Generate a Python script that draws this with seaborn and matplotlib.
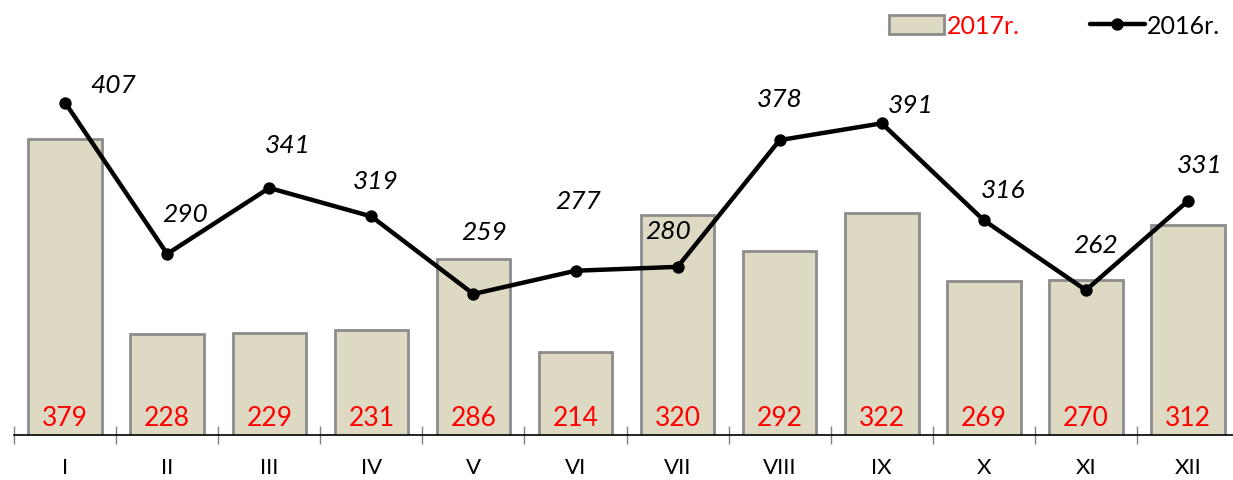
import numpy as np
import pandas as pd
import seaborn as sns
import matplotlib.pyplot as plt

# data
months = ['I', 'II', 'III', 'IV', 'V', 'VI', 'VII', 'VIII', 'IX', 'X', 'XI', 'XII']
values_2017 = [379, 228, 229, 231, 286, 214, 320, 292, 322, 269, 270, 312]
values_2016 = [407, 290, 341, 319, 259, 277, 280, 378, 391, 316, 262, 331]

# pixel offsets of the 2016 labels from their points
label_offsets = [(48, 18), (18, 40), (18, 43), (4, 36), (11, 63), (3, 70),
                 (-9, 36), (0, 42), (29, 19), (19, 31), (10, 46), (12, 36)]

sns.set_style('white')
plt.rcParams['font.family'] = ['Lato', 'DejaVu Sans']

df = pd.DataFrame({'month': months, '2017': values_2017, '2016': values_2016})

fig = plt.figure(figsize=(12.33, 4.81), dpi=100)
ax = fig.add_axes([0.0114, 0.0936, 0.9935, 0.8066])

sns.barplot(data=df, x='month', y='2017', order=months, color='#DDD9C3',
            edgecolor='#8C8C8C', linewidth=2, width=0.72, saturation=1,
            label='2017r.', ax=ax)
sns.pointplot(data=df, x='month', y='2016', order=months, color='black',
              markers='o', markersize=6.5, linewidth=3.2, label='2016r.', ax=ax)
if ax.get_legend() is not None:
    ax.get_legend().remove()

ax.set_ylim(150, 450)
ax.set_xlim(-0.5, len(months) - 0.5)
ax.set_xlabel('')
ax.set_ylabel('')
ax.set_yticks([])
for s in ['left', 'right', 'top']:
    ax.spines[s].set_visible(False)
ax.spines['bottom'].set_color('black')
ax.spines['bottom'].set_linewidth(1.2)

ax.set_xticks(np.arange(len(months)))
ax.set_xticklabels(months, fontsize=16, color='black')
ax.set_xticks(np.arange(len(months) + 1) - 0.5, minor=True)
ax.tick_params(axis='x', which='major', length=0, pad=16)
ax.tick_params(axis='x', which='minor', length=13, width=1, color='#808080',
               direction='inout', bottom=True)

# red value labels at the bottom of bars
for i, v in enumerate(values_2017):
    ax.text(i, 0.045, str(v), transform=ax.get_xaxis_transform(),
            ha='center', va='center', color='red', fontsize=19)

# italic labels for the 2016 line
for i, v in enumerate(values_2016):
    dx, dy = label_offsets[i]
    ax.annotate(str(v), (i, v), xytext=(dx, dy), textcoords='offset pixels',
                ha='center', va='center', fontsize=19, fontstyle='italic',
                color='black')

handles, labels = ax.get_legend_handles_labels()
order = [labels.index('2017r.'), labels.index('2016r.')]
leg = fig.legend([handles[k] for k in order], [labels[k] for k in order],
                 loc='upper right', bbox_to_anchor=(1.008, 1.015),
                 ncol=2, frameon=False, fontsize=18, handlelength=2.2,
                 handleheight=0.8, handletextpad=0.1, columnspacing=2.8)
for t, c in zip(leg.get_texts(), ['red', 'black']):
    t.set_color(c)

fig.savefig('out.png', dpi=100)
